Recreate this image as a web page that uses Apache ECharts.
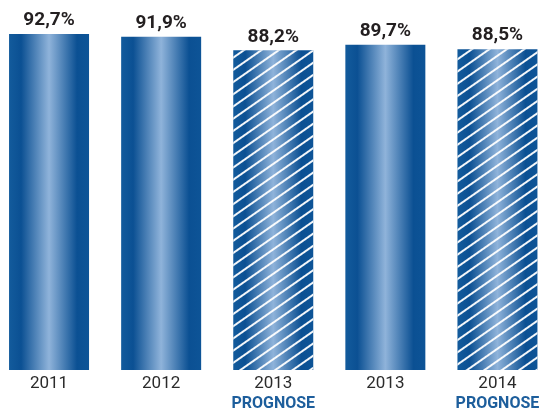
<!DOCTYPE html>
<html>
<head>
<meta charset="utf-8">
<script src="https://cdn.jsdelivr.net/npm/echarts@6/dist/echarts.min.js"></script>
<style>
html,body{margin:0;padding:0;background:#fff;}
#chart{width:543px;height:412px;}
</style>
</head>
<body>
<div id="chart"></div>
<script>
var years = ['2011', '2012', '2013', '2013', '2014'];
var prognose = [false, false, true, false, true];
var values = [92.7, 91.9, 88.2, 89.7, 88.5];
var prognoseText = 'PROGNOSE';

var grad = new echarts.graphic.LinearGradient(0, 0, 1, 0, [
  {offset: 0, color: '#135b9c'},
  {offset: 0.15, color: '#0b5093'},
  {offset: 0.5, color: '#8fb3da'},
  {offset: 0.85, color: '#0b5093'},
  {offset: 1, color: '#0d5497'}
]);

var hatch = {
  color: 'rgba(255,255,255,0.95)',
  symbol: 'rect',
  symbolSize: 1,
  dashArrayX: [1, 0],
  dashArrayY: [1.3, 7.8],
  rotation: -35 * Math.PI / 180
};

var cats = years.map(function (y, i) { return y + (prognose[i] ? '\n' + prognoseText : ''); });

var chart = echarts.init(document.getElementById('chart'));
chart.setOption({
  animation: false,
  grid: {left: -7, right: -10.5, top: 7.5, bottom: 42, containLabel: false, outerBoundsMode: 'none'},
  xAxis: {
    type: 'category',
    data: cats,
    axisLine: {show: false},
    axisTick: {show: false},
    axisLabel: {
      margin: 4,
      interval: 0,
      formatter: function (v) {
        var p = v.split('\n');
        return p.length > 1 ? '{y|' + p[0] + '}\n{p|' + p[1] + '}' : '{y|' + p[0] + '}';
      },
      rich: {
        y: {fontFamily: 'Roboto', fontSize: 17, color: '#2b2b2b', lineHeight: 20},
        p: {fontFamily: 'Roboto', fontSize: 16, fontWeight: 'bold', color: '#1d5e9c', lineHeight: 20}
      }
    }
  },
  yAxis: {type: 'value', min: 0, max: 100, show: false, splitLine: {show: false}},
  series: [{
    type: 'bar',
    barWidth: 80,
    data: values.map(function (v, i) {
      var it = {value: v, itemStyle: {color: grad}};
      if (prognose[i]) it.itemStyle.decal = hatch;
      return it;
    }),
    label: {
      show: true,
      position: 'top',
      distance: 4,
      fontFamily: 'Roboto',
      fontWeight: 'bold',
      fontSize: 19,
      color: '#231f20',
      formatter: function (p) { return p.value.toFixed(1).replace('.', ',') + '%'; }
    }
  }]
});
</script>
</body>
</html>
